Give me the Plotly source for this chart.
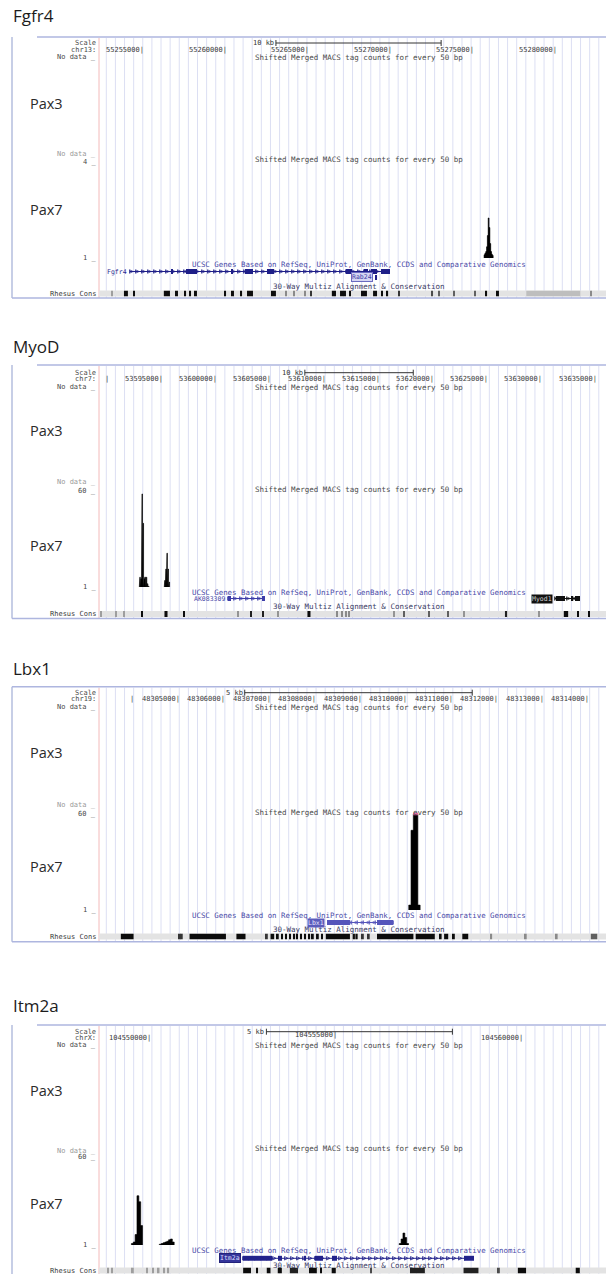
import numpy as np
import plotly.graph_objects as go

# ------------------------------------------------------------------ data
panel_titles = ["Fgfr4", "MyoD", "Lbx1", "Itm2a"]
chrom_names = ["chr13:", "chr7:", "chr19:", "chrX:"]
view_start = [55252340, 53589188, 48303242, 104548629]
view_end = [55283030, 53635960, 48314385, 104562258]
scale_bar_kb = [10, 10, 5, 5]
scale_bar_center = [55268050, 53613178, 48308945, 104555629]
track_max = [4, 60, 60, 60]
track_max_labels = ["4 _", "60 _", "60 _", "60 _"]

p1_ticks = [55255000, 55260000, 55265000, 55270000, 55275000, 55280000]
p1_tick_labels = ["55255000|", "55260000|", "55265000|", "55270000|", "55275000|", "55280000|"]
p2_ticks = [53590000, 53595000, 53600000, 53605000, 53610000, 53615000, 53620000, 53625000, 53630000, 53635000]
p2_tick_labels = ["|", "53595000|", "53600000|", "53605000|", "53610000|", "53615000|", "53620000|",
                  "53625000|", "53630000|", "53635000|"]
p3_ticks = [48304000, 48305000, 48306000, 48307000, 48308000, 48309000, 48310000, 48311000, 48312000,
            48313000, 48314000]
p3_tick_labels = ["|", "48305000|", "48306000|", "48307000|", "48308000|", "48309000|", "48310000|",
                  "48311000|", "48312000|", "48313000|", "48314000|"]
p4_ticks = [104550000, 104555000, 104560000]
p4_tick_labels = ["104550000|", "104555000|", "104560000|"]

# Pax7 signal (50 bp bins: bin start, tag count)
bin_bp = 50
p1_bins = [55275650, 55275700, 55275750, 55275800, 55275850, 55275900, 55275950, 55276000, 55276050,
           55276100, 55276150]
p1_vals = [1.1, 1.15, 1.2, 1.35, 1.7, 2.25, 1.95, 1.45, 1.2, 1.12, 1.08]
p2_bins = [53592900, 53592950, 53593000, 53593050, 53593100, 53593150, 53593200, 53593250, 53593300,
           53593350, 53593400, 53593450, 53593500, 53593550, 53593600, 53593650, 53593700, 53593750,
           53595200, 53595250, 53595300, 53595350, 53595400, 53595450, 53595500, 53595550, 53595600,
           53595650, 53595700]
p2_vals = [3, 7, 7, 6, 7, 58, 40, 40, 7, 6, 7, 7, 6, 7, 5, 3, 2, 1.5,
           3, 5, 8, 12, 17, 21.7, 18, 12, 7, 4, 2]
p3_bins = [48310050, 48310100, 48310150, 48310200, 48310250]
p3_vals = [4, 50, 65, 65, 4]
p4_bins = [104549500, 104549550, 104549600, 104549650, 104549700, 104549750,
           104550250, 104550300, 104550350, 104550400, 104550450, 104550500, 104550550, 104550600,
           104556700, 104556750, 104556800, 104556850, 104556900]
p4_vals = [2, 3, 8, 34, 30, 14, 1.5, 2, 2.5, 3, 3.5, 4.5, 5, 3, 2, 5, 9, 6, 2]

# genes
gene_names = ["Fgfr4", "Rab24", "AK083309", "Myod1", "Lbx1", "Itm2a"]
gene_panel = [0, 0, 1, 1, 2, 3]
gene_row = [0, 1, 0, 0, 0, 0]
gene_strand = ["+", "+", "+", "+", "-", "+"]
gene_tx_start = [55254217, 55269050, 53601088, 53631258, 48308253, 104552500]
gene_tx_end = [55269955, 55269170, 53604502, 53633561, 48309704, 104558710]
gene_exon_starts = [
    [55256698, 55257606, 55260330, 55261178, 55262509, 55267292, 55268381, 55268805, 55269410],
    [55269050],
    [53601088, 53604225],
    [53631347, 53632730, 53633099],
    [48308253, 48309352],
    [104552500, 104553441, 104554140, 104554435, 104554892, 104558441],
]
gene_exon_ends = [
    [55256819, 55258272, 55260451, 55261662, 55262933, 55267655, 55268623, 55269168, 55269955],
    [55269170],
    [53601365, 53604502],
    [53632177, 53632915, 53633561],
    [48308758, 48309704],
    [104553280, 104553548, 104554194, 104554651, 104555027, 104558710],
]

# conservation (kb offset from view start, width kb, darkness 0..1)
p1_cons_kb = [0.79, 1.63, 2.12, 4.11, 4.72, 5.21, 5.51, 5.87, 7.63, 8.11, 8.60, 9.14, 10.56, 11.32, 11.80,
              12.47, 12.83, 14.22, 14.77, 15.19, 16.04, 16.71, 17.13, 17.46, 18.16, 20.16, 20.58, 21.49,
              22.76, 23.43, 24.15, 27.50, 29.78]
p1_cons_w = [0.08, 0.24, 0.12, 0.37, 0.12, 0.12, 0.12, 0.12, 0.12, 0.12, 0.12, 0.36, 0.30, 0.08, 0.08,
             0.08, 0.10, 0.25, 0.36, 0.10, 0.36, 0.24, 0.12, 0.08, 0.12, 0.12, 0.08, 0.08,
             0.08, 0.12, 0.12, 3.27, 0.10]
p1_cons_shade = [0.3, 1, 1, 1, 1, 1, 1, 1, 1, 1, 1, 1, 1, 0.4, 0.4,
                 0.4, 0.8, 1, 1, 1, 1, 1, 1, 1, 0.8, 0.7, 0.6, 0.6,
                 0.6, 1, 1, 0.15, 0.4]
p2_cons_kb = [0.18, 1.57, 2.35, 3.97, 6.18, 7.84, 12.82, 14.02, 15.13, 16.51, 19.37, 22.0, 22.4, 22.8, 23.1,
              27.21, 28.14, 30.44, 32.20, 33.67, 37.55, 40.59, 43.08, 44.19, 45.20]
p2_cons_w = [0.1, 0.1, 0.1, 0.18, 0.28, 0.15, 0.1, 0.15, 0.15, 0.1, 0.28, 0.1, 0.1, 0.1, 0.1,
             0.1, 0.12, 0.12, 0.12, 0.1, 0.2, 0.1, 0.4, 0.15, 0.15]
p2_cons_shade = [0.3, 0.3, 0.3, 1, 1, 1, 0.35, 0.9, 0.9, 0.35, 1, 0.4, 0.4, 0.4, 0.4,
                 0.35, 0.6, 0.6, 0.6, 0.35, 0.9, 0.35, 1, 1, 1]
p3_cons_kb = [0.62, 1.77, 1.82, 2.39, 3.12, 3.69, 3.81, 3.93, 4.02, 4.11, 4.20, 4.29, 4.35, 4.44, 4.53,
              4.62, 4.70, 4.80, 4.90, 5.25, 5.60, 5.66, 5.80, 5.93, 6.51, 7.17, 7.51, 7.63, 7.80, 8.05,
              8.62, 9.38, 10.06, 10.88]
p3_cons_w = [0.28, 0.04, 0.04, 0.80, 0.20, 0.04, 0.08, 0.04, 0.04, 0.04, 0.04, 0.04, 0.04, 0.04, 0.04,
             0.04, 0.04, 0.06, 0.04, 0.53, 0.05, 0.05, 0.04, 0.04, 0.80, 0.42, 0.04, 0.09, 0.04, 0.13,
             0.04, 0.04, 0.04, 0.14]
p3_cons_shade = [1, 0.8, 0.8, 1, 1, 0.8, 1, 1, 1, 1, 1, 1, 1, 1, 1,
                 1, 1, 1, 1, 1, 1, 1, 0.8, 0.8, 1, 1, 1, 1, 1, 1,
                 0.4, 0.4, 0.4, 0.6]
p4_cons_kb = [0.24, 0.35, 0.91, 1.29, 1.45, 1.60, 1.75, 1.86, 3.98, 4.25, 4.56, 4.86, 5.24, 5.75, 5.97,
              6.31, 7.31, 8.56, 10.00, 10.75, 11.37, 12.87]
p4_cons_w = [0.05, 0.05, 0.05, 0.05, 0.05, 0.05, 0.05, 0.05, 0.21, 0.05, 0.10, 0.11, 0.22, 0.21, 0.05,
             0.11, 0.05, 0.40, 0.40, 0.05, 0.22, 0.11]
p4_cons_shade = [0.3, 0.3, 0.3, 0.3, 0.3, 0.3, 0.3, 0.3, 1, 1, 1, 1, 0.9, 1, 1,
                 1, 0.7, 0.9, 0.9, 0.7, 1, 1]

track_title = "Shifted Merged MACS tag counts for every 50 bp"
gene_title = "UCSC Genes Based on RefSeq, UniProt, GenBank, CCDS and Comparative Genomics"
mz_title = "30-Way Multiz Alignment &amp; Conservation"

# tables built from the arrays above
ticks = [p1_ticks, p2_ticks, p3_ticks, p4_ticks]
tick_labels = [p1_tick_labels, p2_tick_labels, p3_tick_labels, p4_tick_labels]
sig_bins = [p1_bins, p2_bins, p3_bins, p4_bins]
sig_vals = [p1_vals, p2_vals, p3_vals, p4_vals]
cons_kb = [p1_cons_kb, p2_cons_kb, p3_cons_kb, p4_cons_kb]
cons_w = [p1_cons_w, p2_cons_w, p3_cons_w, p4_cons_w]
cons_shade = [p1_cons_shade, p2_cons_shade, p3_cons_shade, p4_cons_shade]

# ------------------------------------------------------------------ layout (pixels)
W, H = 606, 1274
XL = 99
MONO = "DejaVu Sans Mono"
SANS = "Open Sans"
geom = [
    dict(title=15, top=37, top_x0=37, scale=43, chr=50, nd1=57, t1=57, pax3=103, nd2=154, mx=162, t2=160,
         pax7=210, base=258, gt=265, rows=[271.5, 277.5], mz=286.5, cons=293.5, bot=298),
    dict(title=346.7, top=365, top_x0=37, scale=372.7, chr=379.3, nd1=387.3, t1=387.3, pax3=431, nd2=481.7,
         mx=490.7, t2=489.3, pax7=545, base=587, gt=592.7, rows=[598.5], mz=606.7, cons=614, bot=618.5),
    dict(title=668, top=686.7, top_x0=12, scale=692.7, chr=699.3, nd1=707, t1=707, pax3=752, nd2=805,
         mx=814, t2=812.7, pax7=866, base=910, gt=915, rows=[922.5], mz=929.3, cons=936.5, bot=941.7),
    dict(title=1005, top=1025, top_x0=37, scale=1031.7, chr=1038.3, nd1=1045, t1=1045, pax3=1090, nd2=1150.7,
         mx=1157, t2=1148, pax7=1203, base=1245, gt=1250.7, rows=[1258.3], mz=1265.5, cons=1270.5, bot=1290),
]
label_style = {
    "Fgfr4": dict(font=dict(color="#2a2a90")),
    "Rab24": dict(bgcolor="#d6d6f2", bordercolor="#6a6ac0", borderwidth=1, font=dict(color="#4040a8")),
    "AK083309": dict(font=dict(color="#4a4aa8")),
    "Myod1": dict(bgcolor="#111111", font=dict(color="#cfcfcf")),
    "Lbx1": dict(bgcolor="#5c5cbc", font=dict(color="#e6e6ff")),
    "Itm2a": dict(bgcolor="#34349a", bordercolor="#22227a", borderwidth=1, font=dict(color="#dcdcff")),
}
gene_color = {"Fgfr4": "#1e1e88", "Rab24": "#1e1e88", "AK083309": "#3c3ca8", "Myod1": "#111111",
              "Lbx1": "#5555bb", "Itm2a": "#23238c"}


def xp(v):
    return v / W


def yp(v):
    return min(1.0, max(0.0, 1 - v / H))


fig = go.Figure()
shapes, anns, axes = [], [], {}


def names(k):
    if k == 1:
        return "xaxis", "yaxis", "x", "y"
    return f"xaxis{k}", f"yaxis{k}", f"x{k}", f"y{k}"


def make_axes(k, vs, ve, top_px, bot_px, yrange):
    xa, ya, xr, yr = names(k)
    axes[xa] = dict(domain=[xp(XL), 1.0], range=[vs, ve], visible=False, fixedrange=True, anchor=yr)
    axes[ya] = dict(domain=[yp(bot_px), yp(top_px)], range=yrange, visible=False, fixedrange=True, anchor=xr)
    return xr, yr


def text(t, x, y, size=7.5, color="#4a4a4a", xanchor="right", family=MONO, xref="paper", xshift=0, **kw):
    a = dict(text=t, x=xp(x) if xref == "paper" else x, y=yp(y), xref=xref, yref="paper",
             xanchor=xanchor, yanchor="middle", showarrow=False, xshift=xshift, borderpad=0,
             font=dict(family=family, size=size, color=color))
    a.update(kw)
    anns.append(a)


def line(x0, y0, x1, y1, color, width=1, xref="paper", layer="above"):
    shapes.append(dict(type="line", xref=xref, yref="paper",
                       x0=xp(x0) if xref == "paper" else x0, x1=xp(x1) if xref == "paper" else x1,
                       y0=yp(y0), y1=yp(y1), line=dict(color=color, width=width), layer=layer))


grid_px = np.arange(106.3, W, 9.12)

for i in range(4):
    g = geom[i]
    vs, ve = view_start[i], view_end[i]
    bot = min(g["bot"], H)

    # ---- frame, grid
    path = " ".join(f"M{xp(x):.5f},{yp(g['top'] + 1):.5f} L{xp(x):.5f},{yp(bot):.5f}" for x in grid_px)
    shapes.append(dict(type="path", path=path, xref="paper", yref="paper",
                       line=dict(color="#dcdff3", width=1), layer="below"))
    line(XL, g["top"] + 1, XL, bot, "#f3baba", 1, layer="below")
    line(12, g["top"], 12, bot, "#b5bede", 1.5)
    line(g["top_x0"], g["top"], W, g["top"], "#aeb6df", 1.6)
    if g["bot"] < H:
        line(12, g["bot"], W, g["bot"], "#aeb6df", 1.6)

    # ---- labels
    text(panel_titles[i], 12, g["title"], size=17, color="#1c1c1c", xanchor="left", family=SANS)
    text("Pax3", 29, g["pax3"], size=14.5, color="#2a2a2a", xanchor="left", family=SANS)
    text("Pax7", 29, g["pax7"], size=14.5, color="#2a2a2a", xanchor="left", family=SANS)
    text("Scale", 97, g["scale"], size=7)
    text(chrom_names[i], 97, g["chr"], size=7)
    text("No data _", 97, g["nd1"], size=7)
    text(track_title, 359, g["t1"], xanchor="center")
    text("No data _", 97, g["nd2"], size=7, color="#9a9a9a")
    text(track_max_labels[i], 97, g["mx"], size=7)
    text(track_title, 359, g["t2"], xanchor="center")
    text("1 _", 97, g["base"], size=7)
    text(gene_title, 359, g["gt"], size=7.4, color="#4a4aa8", xanchor="center")
    text(mz_title, 359, g["mz"], color="#3a3a64", xanchor="center")
    text("Rhesus Cons", 97, g["cons"], size=7, color="#3a3a3a")

    # ---- signal axis (used by header too)
    xr, yr = make_axes(3 * i + 1, vs, ve, g["mx"], g["base"], [1, track_max[i]])
    for j, (t, lab) in enumerate(zip(ticks[i], tick_labels[i])):
        ty = g["chr"]
        if i == 3 and j == 1:
            ty = g["chr"] - 3
        text(lab, t, ty, size=7, color="#3a3a3a", xref=xr, xshift=2)

    # scale bar
    half = scale_bar_kb[i] * 500
    sx0, sx1 = scale_bar_center[i] - half, scale_bar_center[i] + half
    line(sx0, g["scale"], sx1, g["scale"], "#333", 1, xref=xr)
    line(sx0, g["scale"] - 3, sx0, g["scale"] + 3, "#333", 1, xref=xr)
    line(sx1, g["scale"] - 3, sx1, g["scale"] + 3, "#333", 1, xref=xr)
    text(f"{scale_bar_kb[i]} kb", sx0, g["scale"], size=7, color="#333", xref=xr, xshift=-1)

    # signal
    xs, ys = [], []
    for s, v in zip(sig_bins[i], sig_vals[i]):
        xs += [s, s, s + bin_bp, s + bin_bp]
        ys += [0, v, v, 0]
    fig.add_trace(go.Scatter(x=xs, y=ys, mode="lines", fill="tozeroy", fillcolor="#000",
                             line=dict(color="#000", width=0.6), xaxis=xr, yaxis=yr, hoverinfo="skip"))
    over = [s + bin_bp / 2 for s, v in zip(sig_bins[i], sig_vals[i]) if v > track_max[i]]
    if over:
        fig.add_trace(go.Scatter(x=over, y=[track_max[i]] * len(over), mode="markers", cliponaxis=False,
                                 marker=dict(symbol="square", size=2.5, color="#e0609a"),
                                 xaxis=xr, yaxis=yr, hoverinfo="skip"))

    # ---- gene track
    rows = g["rows"]
    nrow = len(rows)
    gx, gy = make_axes(3 * i + 2, vs, ve, rows[0] - 3, rows[-1] + 3, [0, nrow])
    step = (ve - vs) / (W - XL) * 6
    for gi in range(len(gene_names)):
        if gene_panel[gi] != i:
            continue
        nm = gene_names[gi]
        col = gene_color[nm]
        yc = nrow - gene_row[gi] - 0.5
        ts, te = gene_tx_start[gi], gene_tx_end[gi]
        fig.add_trace(go.Scatter(x=[ts, te], y=[yc, yc], mode="lines", line=dict(color=col, width=1),
                                 xaxis=gx, yaxis=gy, hoverinfo="skip"))
        if te - ts > 2 * step:
            cx = np.arange(ts + step / 2, te - step / 2, step)
            sym = "arrow-right-open" if gene_strand[gi] == "+" else "arrow-left-open"
            fig.add_trace(go.Scatter(x=cx, y=[yc] * len(cx), mode="markers",
                                     marker=dict(symbol=sym, size=3.5, color=col, line=dict(color=col, width=0.8)),
                                     xaxis=gx, yaxis=gy, hoverinfo="skip"))
        es, ee = gene_exon_starts[gi], gene_exon_ends[gi]
        fig.add_trace(go.Bar(x=[(a + b) / 2 for a, b in zip(es, ee)], y=[0.85] * len(es),
                             base=[yc - 0.425] * len(es), width=[b - a for a, b in zip(es, ee)],
                             marker=dict(color=col, line=dict(width=0)), xaxis=gx, yaxis=gy,
                             hoverinfo="skip"))
        st = dict(label_style[nm])
        fnt = dict(family=MONO, size=6.5, color=st.pop("font")["color"])
        anns.append(dict(text=nm, x=ts, y=yp(rows[gene_row[gi]]), xref=gx, yref="paper",
                         xanchor="right", yanchor="middle", showarrow=False, xshift=-2,
                         borderpad=0, font=fnt, **st))

    # ---- conservation
    cx_, cy_ = make_axes(3 * i + 3, vs, ve, g["cons"] - 3, g["cons"] + 3, [0, 1])
    shapes.append(dict(type="rect", xref="paper", yref="paper", x0=xp(XL), x1=1,
                       y0=yp(g["cons"] + 3), y1=yp(g["cons"] - 3), fillcolor="#e3e3e3",
                       line=dict(width=0), layer="below"))
    cols = []
    for sh in cons_shade[i]:
        lv = int(222 * (1 - sh) + 12 * sh)
        cols.append(f"rgb({lv},{lv},{lv})")
    fig.add_trace(go.Bar(x=[vs + k * 1000 for k in cons_kb[i]], y=[1] * len(cons_kb[i]),
                         width=[w * 1000 for w in cons_w[i]], marker=dict(color=cols, line=dict(width=0)),
                         xaxis=cx_, yaxis=cy_, hoverinfo="skip"))

fig.update_layout(width=W, height=H, margin=dict(l=0, r=0, t=0, b=0), paper_bgcolor="white",
                  plot_bgcolor="rgba(0,0,0,0)", showlegend=False, barmode="overlay",
                  shapes=shapes, annotations=anns, **axes)
fig.write_html("out.html")
